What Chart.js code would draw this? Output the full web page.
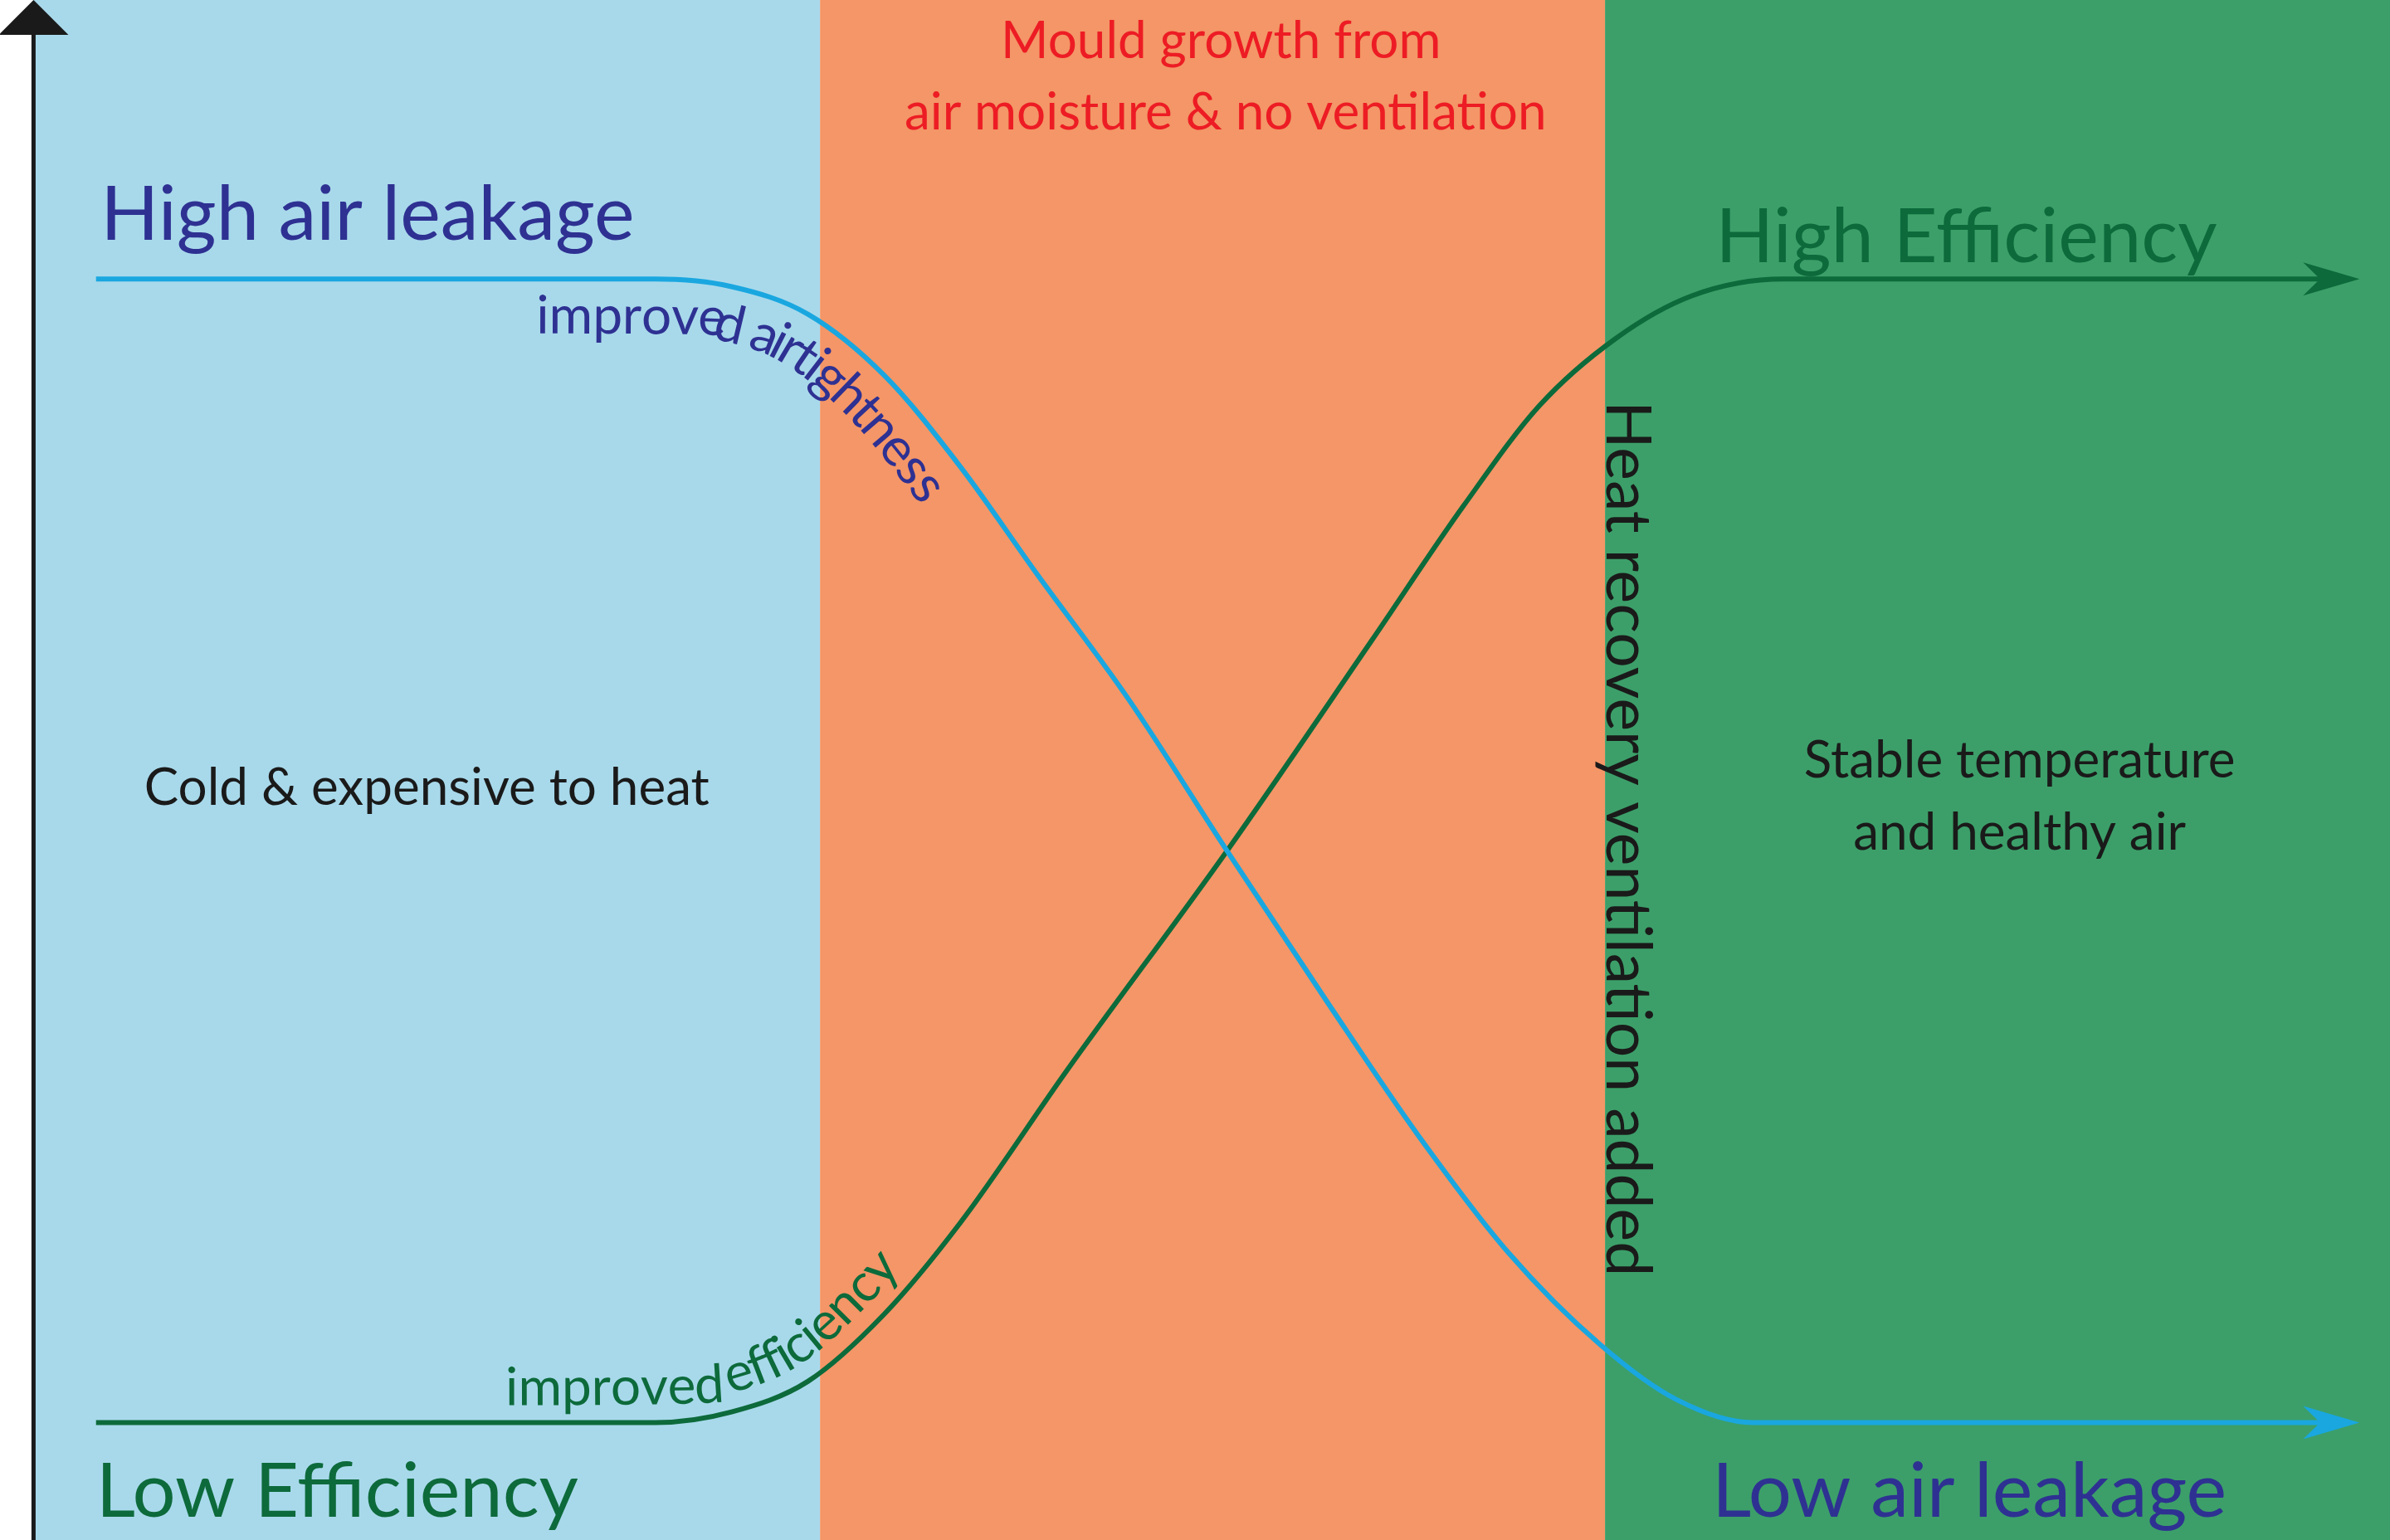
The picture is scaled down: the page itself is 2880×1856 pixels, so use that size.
<!DOCTYPE html>
<html><head><meta charset="utf-8">
<script src="https://cdn.jsdelivr.net/npm/chart.js@4"></script>
<style>html,body{margin:0;padding:0;background:#fff}canvas{display:block}</style>
</head><body>
<canvas id="c" width="2880" height="1856" style="width:2880px;height:1856px"></canvas>
<script>
// Reference units: x 0..1568, y 0..1010 (top down)
const bandEdges = [22, 538, 1053, 1568];
const bandColors = ['#a8d9eb', '#f49667', '#3c9f69'];
const leakageX = [63,430,480,530,580,630,680,740,805,870,930,990,1050,1100,1150,1540];
const leakageY = [183,183,188,206,246,306,376,458,558,656,744,822,882,918,933,933];
const efficiencyX = [63,430,480,530,580,630,700,805,900,960,1010,1060,1110,1170,1540];
const efficiencyY = [933,933,926,906,862,802,702,558,420,332,266,222,194,183,183];
const labels = {
  high: 'High air leakage', lowEff: 'Low Efficiency', highEff: 'High Efficiency', low: 'Low air leakage',
  mould1: 'Mould growth from', mould2: 'air moisture & no ventilation',
  cold: 'Cold & expensive to heat', stable1: 'Stable temperature', stable2: 'and healthy air',
  hrv: 'Heat recovery ventilation added', airtight: 'improved airtightness', eff: 'improved efficiency'
};
const S = 2880/1568;
const FONT = 'Lato, "Open Sans", sans-serif';
const toPts = (xs, ys) => xs.map((x,i)=>({x, y: ys[i]}));

function pathPts(chart, xs, ys){
  const sx = chart.scales.x, sy = chart.scales.y;
  return xs.map((x,i)=>[sx.getPixelForValue(x), sy.getPixelForValue(ys[i])]);
}
function densify(pts){
  // Catmull-Rom densification for smooth text placement
  const out=[];
  for(let i=0;i<pts.length-1;i++){
    const p0=pts[Math.max(0,i-1)],p1=pts[i],p2=pts[i+1],p3=pts[Math.min(pts.length-1,i+2)];
    for(let t=0;t<1;t+=0.05){
      const t2=t*t,t3=t2*t;
      const f=(a,b,c,d)=>0.5*((2*b)+(-a+c)*t+(2*a-5*b+4*c-d)*t2+(-a+3*b-3*c+d)*t3);
      out.push([f(p0[0],p1[0],p2[0],p3[0]),f(p0[1],p1[1],p2[1],p3[1])]);
    }
  }
  out.push(pts[pts.length-1]);return out;
}
function textOnPath(ctx, pts, text, startX, offset, color, size){
  const d=densify(pts);
  const cum=[0];
  for(let i=1;i<d.length;i++)cum.push(cum[i-1]+Math.hypot(d[i][0]-d[i-1][0],d[i][1]-d[i-1][1]));
  let s0=0;
  for(let i=0;i<d.length;i++){ if(d[i][0]>=startX){s0=cum[i];break;} }
  ctx.save();ctx.font=size+'px '+FONT;ctx.fillStyle=color;ctx.textBaseline='alphabetic';ctx.textAlign='left';
  let s=s0;
  for(const ch of text){
    const w=ctx.measureText(ch).width;
    const mid=s+w/2;
    let k=1;while(k<d.length-1&&cum[k]<mid)k++;
    const a=d[k-1],b=d[k];
    const ang=Math.atan2(b[1]-a[1],b[0]-a[0]);
    const t=(mid-cum[k-1])/((cum[k]-cum[k-1])||1);
    const px=a[0]+(b[0]-a[0])*t, py=a[1]+(b[1]-a[1])*t;
    ctx.save();ctx.translate(px,py);ctx.rotate(ang);ctx.translate(0,offset);
    ctx.fillText(ch,-w/2,0);ctx.restore();
    s+=w;
  }
  ctx.restore();
}
function arrowHead(ctx,x,y,dir,len,half,color){
  ctx.save();ctx.fillStyle=color;ctx.beginPath();
  if(dir==='right'){ctx.moveTo(x,y);ctx.lineTo(x-len,y-half);ctx.lineTo(x-len*0.7,y);ctx.lineTo(x-len,y+half);}
  else {ctx.moveTo(x,y);ctx.lineTo(x-half,y+len);ctx.lineTo(x+half,y+len);}
  ctx.closePath();ctx.fill();ctx.restore();
}

const decor = {
  id:'decor',
  beforeDatasetsDraw(chart){
    const ctx=chart.ctx, sx=chart.scales.x, sy=chart.scales.y;
    for(let i=0;i<bandColors.length;i++){
      const x0=sx.getPixelForValue(bandEdges[i]), x1=sx.getPixelForValue(bandEdges[i+1]);
      ctx.fillStyle=bandColors[i];ctx.fillRect(x0,0,x1-x0,chart.height);
    }
    // left axis
    const ax=sx.getPixelForValue(22);
    ctx.save();ctx.strokeStyle='#1a1a1a';ctx.lineWidth=5;ctx.beginPath();
    ctx.moveTo(ax,chart.height);ctx.lineTo(ax,30);ctx.stroke();ctx.restore();
    arrowHead(ctx,ax,0,'up',42,42,'#1a1a1a');
  },
  afterDatasetsDraw(chart){
    const ctx=chart.ctx, sx=chart.scales.x, sy=chart.scales.y;
    const P=(x,y)=>[sx.getPixelForValue(x),sy.getPixelForValue(y)];
    arrowHead(ctx,...P(1548,933),'right',68,20,'#1aa7e0');
    arrowHead(ctx,...P(1548,183),'right',68,20,'#0d6a3b');
    const txt=(t,x,y,size,color,align)=>{
      const [px,py]=P(x,y);ctx.save();ctx.font=Math.round(size*S)+'px '+FONT;ctx.fillStyle=color;
      ctx.textAlign=align||'center';ctx.textBaseline='alphabetic';ctx.fillText(t,px,py);ctx.restore();
    };
    txt(labels.high,66,157,50,'#2e3192','left');
    txt(labels.lowEff,63,995,50,'#0d6a3b','left');
    txt(labels.highEff,1290,172,50,'#0d6a3b');
    txt(labels.low,1292,995,50,'#2e3192');
    txt(labels.mould1,801,38,34,'#ed1c24');
    txt(labels.mould2,804,85,34,'#ed1c24');
    txt(labels.cold,280,528,34,'#1a1a1a');
    txt(labels.stable1,1325,510,34,'#1a1a1a');
    txt(labels.stable2,1325,557,34,'#1a1a1a');
    // vertical label
    const [vx,vy]=P(1054,550);
    ctx.save();ctx.translate(vx,vy);ctx.rotate(Math.PI/2);ctx.font=Math.round(41*S)+'px '+FONT;
    ctx.fillStyle='#1a1a1a';ctx.textAlign='center';ctx.textBaseline='alphabetic';ctx.fillText(labels.hrv,0,0);ctx.restore();
    textOnPath(ctx,pathPts(chart,leakageX,leakageY),labels.airtight,sx.getPixelForValue(342),36*S,'#2e3192',Math.round(35*S));
    textOnPath(ctx,pathPts(chart,efficiencyX,efficiencyY),labels.eff,sx.getPixelForValue(320),-12*S,'#0d6a3b',Math.round(35*S));
  }
};

new Chart(document.getElementById('c'),{
  type:'scatter',
  data:{datasets:[
    {data:toPts(leakageX,leakageY),showLine:true,borderColor:'#1aa7e0',borderWidth:6,pointRadius:0,cubicInterpolationMode:'monotone'},
    {data:toPts(efficiencyX,efficiencyY),showLine:true,borderColor:'#0d6a3b',borderWidth:6,pointRadius:0,cubicInterpolationMode:'monotone'}
  ]},
  options:{responsive:false,devicePixelRatio:1,animation:false,
    layout:{padding:0},
    plugins:{legend:{display:false},tooltip:{enabled:false}},
    scales:{x:{type:'linear',min:0,max:1568,display:false},y:{type:'linear',min:0,max:1010,reverse:true,display:false}}
  },
  plugins:[decor]
});
</script>
</body></html>
